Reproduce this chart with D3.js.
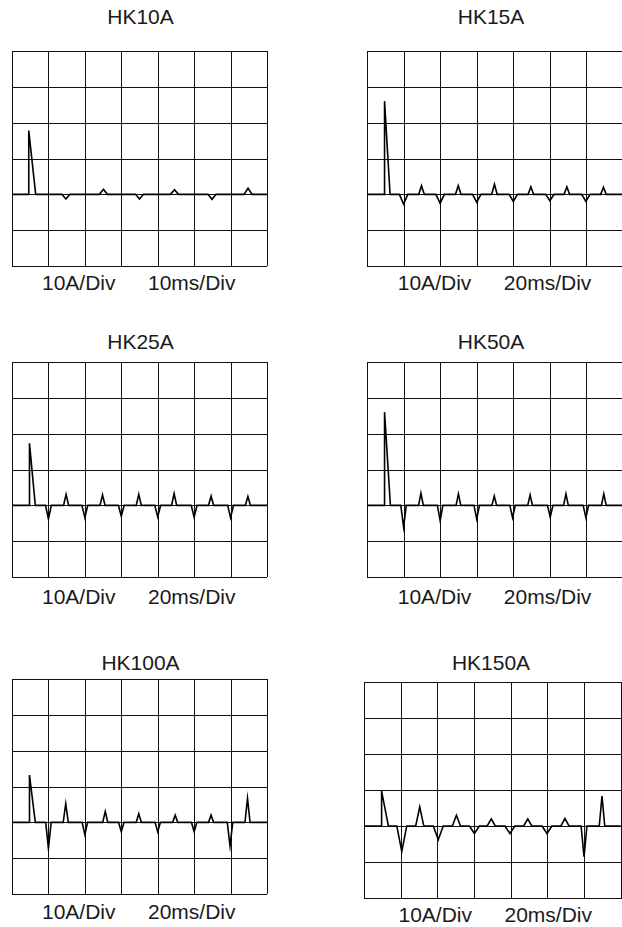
<!DOCTYPE html>
<html>
<head>
<meta charset="utf-8">
<script src="https://cdn.jsdelivr.net/npm/d3@7"></script>
<style>
  html, body { margin: 0; padding: 0; background: #fff; }
  svg { display: block; }
  text { font-family: "Liberation Sans", Arial, Helvetica, sans-serif; fill: #1a1a1a; }
</style>
</head>
<body>
<svg id="chart" width="622" height="927"></svg>
<script>
// ---- data ----
const titles = ["HK10A", "HK15A", "HK25A", "HK50A", "HK100A", "HK150A"];
const ampLabels = ["10A/Div", "10A/Div", "10A/Div", "10A/Div", "10A/Div", "10A/Div"];
const timeLabels = ["10ms/Div", "20ms/Div", "20ms/Div", "20ms/Div", "20ms/Div", "20ms/Div"];
const msPerDiv = [10, 20, 20, 20, 20, 20];
const ampPerDiv = 10;
const xDivs = 7;
const yDivsAbove = 4;
const yDivsBelow = 2;

// inrush spike: rise time (ms), peak (A), back-to-zero time (ms)
const spikeRise = [4.6, 9.6, 9.6, 9.6, 9.6, 9.6];
const spikePeak = [17.8, 26, 17.3, 26, 13.2, 9.7];
const spikeFall = [6.5, 12.6, 12.8, 12.8, 12.8, 13.3];

// following small pulses (ms, A, half-width ms)
const pulseTimes = [
  [14.8, 25.1, 35, 44.6, 54.9, 64.8],
  [20, 29.8, 40, 49.9, 60, 69.7, 80, 89.6, 100, 109.3, 119.7, 129.3],
  [20, 29.7, 40, 49.7, 60, 69.6, 80, 89, 100, 109.3, 120, 129.5],
  [20, 29.5, 40, 50, 60, 69.6, 79.6, 89.2, 100.2, 108.8, 119.7, 129.5],
  [20, 29.5, 40, 51.2, 60, 69.6, 80, 89.6, 100, 109.3, 119.7, 129.3],
  [20.6, 30.4, 40.5, 50.4, 60.2, 69.4, 79.6, 89.3, 99.8, 109.6, 120, 129.8]
];
const pulseAmps = [
  [-1.3, 1.4, -1.3, 1.3, -1.4, 1.7],
  [-2.7, 2.4, -2.5, 2.4, -2.2, 2.8, -2.0, 2.1, -1.8, 2.1, -2.0, 2.0],
  [-3.8, 3.1, -3.4, 2.9, -3.0, 3.1, -3.2, 3.3, -3.3, 2.6, -3.4, 2.5],
  [-6.0, 3.4, -4.3, 3.2, -3.8, 2.6, -3.4, 2.9, -3.3, 3.2, -3.4, 3.2],
  [-7.3, 5.2, -3.4, 3.0, -2.6, 2.4, -2.6, 2.0, -2.6, 2.0, -6.6, 6.7],
  [-7.1, 5.3, -3.8, 3.0, -2.1, 2.0, -2.1, 2.0, -2.1, 2.1, -8.5, 8.3]
];
const pulseHalfWidths = [
  [1.1, 1.1, 1.1, 1.1, 1.1, 1.1],
  [2.3, 1.5, 2.3, 1.5, 2.3, 1.5, 2.3, 1.5, 2.3, 1.5, 2.3, 1.5],
  [1.6, 1.4, 1.6, 1.4, 1.6, 1.4, 1.6, 1.4, 1.6, 1.4, 1.6, 1.4],
  [1.5, 1.3, 1.5, 1.3, 1.5, 1.3, 1.5, 1.3, 1.5, 1.3, 1.5, 1.3],
  [1.5, 1.4, 1.5, 1.4, 1.5, 1.4, 1.5, 1.4, 1.5, 1.4, 1.5, 1.4],
  [2.7, 2.2, 2.7, 2.2, 2.7, 2.2, 2.7, 2.2, 2.7, 2.2, 1.6, 1.5]
];

// ---- layout (pixels) ----
const layout = [
  { x0: 12,  x1: 267,   y0: 51,  y1: 266, titleX: 140.5, titleY: 24,  labelX: 139,   labelY: 290 },
  { x0: 367, x1: 623,   y0: 51,  y1: 266, titleX: 491,   titleY: 24,  labelX: 494.8, labelY: 290 },
  { x0: 12,  x1: 267,   y0: 362, y1: 577, titleX: 140.5, titleY: 349, labelX: 139,   labelY: 604 },
  { x0: 367, x1: 623,   y0: 362, y1: 577, titleX: 491,   titleY: 349, labelX: 494.8, labelY: 604 },
  { x0: 12,  x1: 267,   y0: 679, y1: 894, titleX: 140.5, titleY: 670, labelX: 139,   labelY: 919 },
  { x0: 364, x1: 620.7, y0: 682, y1: 898, titleX: 491,   titleY: 670, labelX: 495.5, labelY: 922 }
];
const W = 622;

const svg = d3.select("#chart");

titles.forEach((title, i) => {
  const L = layout[i];
  const tMax = xDivs * msPerDiv[i];
  const x = d3.scaleLinear().domain([0, tMax]).range([L.x0, L.x1]);
  const y = d3.scaleLinear().domain([-yDivsBelow * ampPerDiv, yDivsAbove * ampPerDiv]).range([L.y1, L.y0]);
  const g = svg.append("g");

  const xTicks = d3.range(0, xDivs + 1).map(k => k * msPerDiv[i]).filter(v => x(v) <= W - 1);
  const yTicks = d3.range(-yDivsBelow, yDivsAbove + 1).map(k => k * ampPerDiv);

  // vertical grid lines
  const gx = g.append("g")
    .attr("transform", `translate(0,${L.y1})`)
    .call(d3.axisBottom(x).tickValues(xTicks).tickSize(-(L.y1 - L.y0)).tickFormat(""));
  gx.select(".domain").remove();
  // horizontal grid lines (right column runs off the page edge)
  const hLen = (L.x1 >= W - 2 ? W + 4 : L.x1) - L.x0;
  const gy = g.append("g")
    .attr("transform", `translate(${L.x0},0)`)
    .call(d3.axisLeft(y).tickValues(yTicks).tickSize(-hLen).tickFormat(""));
  gy.select(".domain").remove();
  g.selectAll(".tick line")
    .attr("stroke", "#111")
    .attr("stroke-width", 1)
    .attr("shape-rendering", "crispEdges");

  // waveform points
  const pts = [[0, 0], [spikeRise[i], 0], [spikeRise[i], spikePeak[i]], [spikeFall[i], 0]];
  pulseTimes[i].forEach((t, k) => {
    const hw = pulseHalfWidths[i][k];
    pts.push([t - hw, 0], [t, pulseAmps[i][k]], [t + hw, 0]);
  });
  pts.push([tMax, 0]);

  const line = d3.line().x(d => x(d[0])).y(d => y(d[1]));
  g.append("path")
    .datum(pts)
    .attr("d", line)
    .attr("fill", "none")
    .attr("stroke", "#000")
    .attr("stroke-width", 1.6)
    .attr("stroke-linejoin", "miter")
    .attr("stroke-miterlimit", 10);

  // title
  g.append("text")
    .attr("x", L.titleX).attr("y", L.titleY)
    .attr("text-anchor", "middle")
    .style("font-size", "21px")
    .text(title);

  // bottom labels
  g.append("text")
    .attr("x", L.labelX - 23.5).attr("y", L.labelY)
    .attr("text-anchor", "end")
    .style("font-size", "21px")
    .text(ampLabels[i]);
  g.append("text")
    .attr("x", L.labelX + 9).attr("y", L.labelY)
    .attr("text-anchor", "start")
    .style("font-size", "21px")
    .text(timeLabels[i]);
});
</script>
</body>
</html>
